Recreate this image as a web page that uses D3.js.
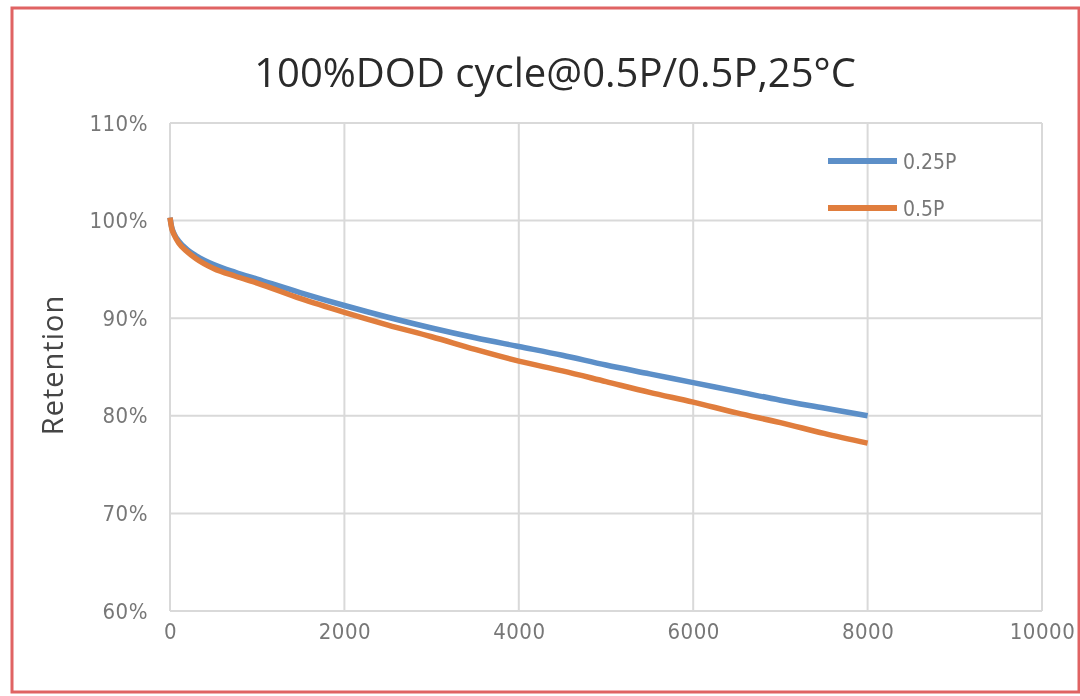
<!DOCTYPE html>
<html>
<head>
<meta charset="utf-8">
<script src="https://cdn.jsdelivr.net/npm/d3@7"></script>
<style>
  html, body { margin: 0; padding: 0; background: #fff; }
  svg { display: block; }
</style>
</head>
<body>
<svg id="chart" width="1080" height="696"></svg>
<script>
// Cycle counts at which retention was sampled
const cycles = [0, 20, 50, 100, 200, 300, 500, 750, 1000, 1500, 2000, 2500, 3000,
                3500, 4000, 4500, 5000, 5500, 6000, 6500, 7000, 7500, 8000];
// Capacity retention (%) for each charge/discharge rate
const retention025P = [100.3, 99.3, 98.6, 97.9, 97.0, 96.4, 95.5, 94.7, 94.0, 92.6, 91.3, 90.1, 89.0,
                       88.0, 87.1, 86.2, 85.2, 84.3, 83.4, 82.5, 81.6, 80.8, 80.0];
const retention05P  = [100.3, 99.2, 98.5, 97.7, 96.8, 96.1, 95.1, 94.3, 93.6, 92.0, 90.6, 89.3, 88.1,
                       86.8, 85.6, 84.6, 83.5, 82.4, 81.4, 80.3, 79.3, 78.2, 77.2];
const seriesNames = ["0.25P", "0.5P"];
const xTicks = [0, 2000, 4000, 6000, 8000, 10000];
const yTicks = [60, 70, 80, 90, 100, 110];
const titleText = "100%DOD cycle@0.5P/0.5P,25\u00B0C";
const yAxisTitle = "Retention";

const svg = d3.select("#chart");
const W = 1080, H = 696;
const plot = { left: 170, right: 1042, top: 123, bottom: 611 };
const colors = ["#5b8fc8", "#e07d3c"];
const tickFont = "'DejaVu Sans Condensed', 'Liberation Sans Narrow', sans-serif";

// soft focus applied to the whole drawing
const defs = svg.append("defs");
defs.append("filter").attr("id", "soft")
  .append("feGaussianBlur").attr("stdDeviation", 0.7);

const root = svg.append("g").attr("filter", "url(#soft)");

root.append("rect").attr("x", 0).attr("y", 0).attr("width", W).attr("height", H).attr("fill", "#fff");

const x = d3.scaleLinear().domain([0, 10000]).range([plot.left, plot.right]);
const y = d3.scaleLinear().domain([60, 110]).range([plot.bottom, plot.top]);

// gridlines
const grid = root.append("g").attr("stroke", "#d9d9d9").attr("stroke-width", 2);
grid.selectAll("line.h").data(yTicks).join("line")
  .attr("x1", plot.left).attr("x2", plot.right)
  .attr("y1", d => y(d)).attr("y2", d => y(d));
grid.selectAll("line.v").data(xTicks).join("line")
  .attr("y1", plot.top).attr("y2", plot.bottom)
  .attr("x1", d => x(d)).attr("x2", d => x(d));

// y axis tick labels
const yAxis = d3.axisLeft(y).tickValues(yTicks).tickFormat(d => d + "%").tickSize(0).tickPadding(22);
const gy = root.append("g").attr("transform", `translate(${plot.left},0)`).call(yAxis);
gy.select(".domain").remove();
gy.selectAll("text").attr("fill", "#777").style("font-family", tickFont)
  .style("font-size", "22px").style("letter-spacing", "0.5px");

// x axis tick labels
const xAxis = d3.axisBottom(x).tickValues(xTicks).tickFormat(d3.format("d")).tickSize(0).tickPadding(12);
const gx = root.append("g").attr("transform", `translate(0,${plot.bottom})`).call(xAxis);
gx.select(".domain").remove();
gx.selectAll("text").attr("fill", "#777").style("font-family", tickFont)
  .style("font-size", "22px").style("letter-spacing", "0.5px");

// retention curves
const line = d3.line().x((d, i) => x(cycles[i])).y(d => y(d)).curve(d3.curveMonotoneX);
const series = [retention025P, retention05P];
root.selectAll("path.series").data(series).join("path")
  .attr("class", "series")
  .attr("d", d => line(d))
  .attr("fill", "none")
  .attr("stroke", (d, i) => colors[i])
  .attr("stroke-width", 5.5)
  .attr("stroke-linecap", "butt");

// legend
const legend = root.append("g");
const legendY = [161, 208];
seriesNames.forEach((name, i) => {
  legend.append("line")
    .attr("x1", 828).attr("x2", 897)
    .attr("y1", legendY[i]).attr("y2", legendY[i])
    .attr("stroke", colors[i]).attr("stroke-width", 6);
  legend.append("text")
    .attr("x", 903).attr("y", legendY[i] + 8)
    .attr("fill", "#777")
    .style("font-family", tickFont).style("font-size", "21px")
    .text(name);
});

// title
root.append("text")
  .attr("x", 555).attr("y", 87)
  .attr("text-anchor", "middle")
  .attr("fill", "#2a2a2a")
  .style("font-family", "'Open Sans', 'Noto Sans', sans-serif")
  .style("font-size", "40px")
  .text(titleText);

// y axis title
root.append("text")
  .attr("transform", "translate(63,365) rotate(-90)")
  .attr("text-anchor", "middle")
  .attr("fill", "#444")
  .style("font-family", "'Open Sans', 'Noto Sans', sans-serif")
  .style("font-size", "29px")
  .style("letter-spacing", "1px")
  .text(yAxisTitle);

// outer frame
root.append("rect")
  .attr("x", 12).attr("y", 8).attr("width", W - 13).attr("height", H - 12)
  .attr("fill", "none").attr("stroke", "#e06363").attr("stroke-width", 3);
</script>
</body>
</html>
